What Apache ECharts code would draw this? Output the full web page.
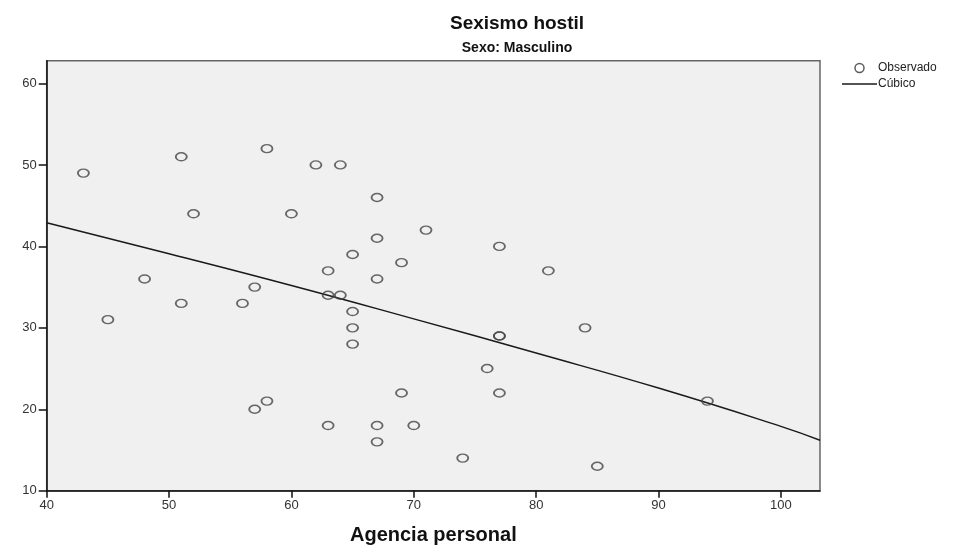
<!DOCTYPE html>
<html>
<head>
<meta charset="utf-8">
<title>Sexismo hostil</title>
<script src="https://cdn.jsdelivr.net/npm/echarts@6/dist/echarts.min.js"></script>
<style>
  html, body { margin: 0; padding: 0; background: #ffffff; }
  #chart { width: 978px; height: 545px; }
</style>
</head>
<body>
<div id="chart"></div>
<script>
// Observed cases: Agencia personal (x) vs Sexismo hostil (y)
const agencia = [43, 51, 58, 62, 64, 67, 52, 60, 71, 67, 77, 65, 69, 63, 81, 48, 67, 57, 63, 64,
                 51, 56, 65, 45, 65, 84, 77, 77, 65, 76, 69, 77, 94, 58, 57, 63, 67, 70, 67, 74, 85];
const sexismo = [49, 51, 52, 50, 50, 46, 44, 44, 42, 41, 40, 39, 38, 37, 37, 36, 36, 35, 34, 34,
                 33, 33, 32, 31, 30, 30, 29, 29, 28, 25, 22, 22, 21, 21, 20, 18, 18, 18, 16, 14, 13];

// Cubic fit curve, sampled along the x range
const curveX = [40, 50, 60, 70, 80, 90, 100, 103.2];
const curveY = [42.9, 39.1, 35.2, 31.1, 26.9, 22.6, 17.9, 16.2];

const xTicks = [40, 50, 60, 70, 80, 90, 100];
const yTicks = [10, 20, 30, 40, 50, 60];

const font = 'Liberation Sans, Arial, sans-serif';

const chart = echarts.init(document.getElementById('chart'), null, { renderer: 'canvas' });

chart.setOption({
  animation: false,
  backgroundColor: '#ffffff',
  title: [
    { text: 'Sexismo hostil', left: 512, top: 9, textAlign: 'center',
      textStyle: { fontFamily: font, fontSize: 19, fontWeight: 'bold', color: '#111' } },
    { text: 'Sexo: Masculino', left: 512, top: 36, textAlign: 'center',
      textStyle: { fontFamily: font, fontSize: 14, fontWeight: 'bold', color: '#111' } }
  ],
  legend: {
    orient: 'vertical',
    left: 837, top: 57,
    padding: 5,
    itemWidth: 35, itemHeight: 9, itemGap: 4,
    textStyle: { fontFamily: font, fontSize: 12, color: '#222', padding: [0, 0, 0, -4] },
    data: [
      { name: 'Observado', icon: 'circle',
        itemStyle: { color: 'transparent', borderColor: '#333', borderWidth: 1.5 } },
      { name: 'Cúbico', icon: 'path://M0,0H35V1.5H0Z',
        itemStyle: { color: '#1a1a1a', borderWidth: 0 } }
    ]
  },
  grid: {
    left: 46.7, right: 158, top: 60.7, bottom: 54.3,
    outerBoundsMode: 'none',
    show: true, backgroundColor: '#f0f0f0', borderColor: '#666', borderWidth: 1.5
  },
  xAxis: {
    type: 'value', min: 40, max: 103.2, interval: 10,
    name: 'Agencia personal', nameLocation: 'middle', nameGap: 35,
    nameTextStyle: { fontFamily: font, fontSize: 20, fontWeight: 'bold', color: '#111' },
    axisLine: { onZero: false, lineStyle: { color: '#111', width: 1.5 } },
    axisTick: { show: true, length: 7, lineStyle: { color: '#111', width: 1.5 },
      customValues: xTicks },
    axisLabel: { fontFamily: font, fontSize: 13, color: '#333', margin: 8,
      customValues: xTicks },
    splitLine: { show: false }
  },
  yAxis: {
    type: 'value', min: 10, max: 62.8, interval: 10,
    axisLine: { show: true, onZero: false, lineStyle: { color: '#111', width: 1.5 } },
    axisTick: { show: true, length: 8, lineStyle: { color: '#111', width: 1.5 },
      customValues: yTicks },
    axisLabel: { fontFamily: font, fontSize: 13, color: '#333', margin: 10,
      customValues: yTicks },
    splitLine: { show: false }
  },
  series: [
    {
      name: 'Observado',
      type: 'scatter',
      symbol: 'circle',
      symbolSize: [11, 8],
      itemStyle: { color: 'rgba(0,0,0,0)', borderColor: '#444', borderWidth: 1.6 },
      data: agencia.map((x, i) => [x, sexismo[i]]),
      z: 3
    },
    {
      name: 'Cúbico',
      type: 'line',
      smooth: true,
      symbol: 'none',
      itemStyle: { color: '#1a1a1a' },
      lineStyle: { color: '#1a1a1a', width: 1.5 },
      data: curveX.map((x, i) => [x, curveY[i]]),
      z: 2
    }
  ]
});
</script>
</body>
</html>
